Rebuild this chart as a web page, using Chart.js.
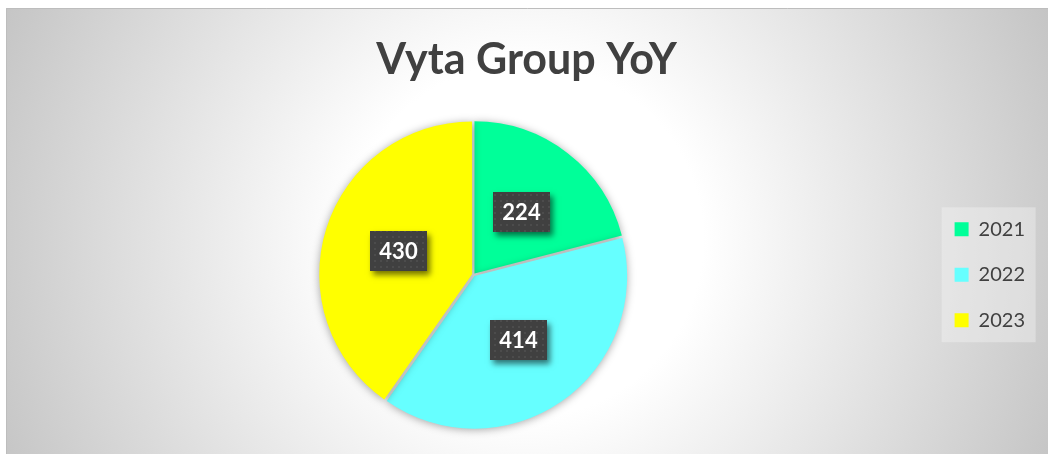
<!DOCTYPE html>
<html>
<head>
<meta charset="utf-8">
<script src="https://cdn.jsdelivr.net/npm/chart.js@4.4.1/dist/chart.umd.min.js"></script>
<style>
html,body{margin:0;padding:0;background:#fff;}
canvas{display:block;}
</style>
</head>
<body>
<canvas id="c" width="1048" height="454"></canvas>
<script>
const categories = ['2021', '2022', '2023'];
const values = [224, 414, 430];
const sliceColors = ['#00FF99', '#66FFFF', '#FFFF00'];
const titleText = 'Vyta Group YoY';

const bgPlugin = {
  id: 'bg',
  beforeDraw(chart) {
    const ctx = chart.ctx;
    ctx.save();
    ctx.fillStyle = '#ffffff';
    ctx.fillRect(0, 0, chart.width, chart.height);
    const g = ctx.createRadialGradient(526, 240, 0, 526, 240, 590);
    g.addColorStop(0, '#ffffff');
    g.addColorStop(0.3, '#ffffff');
    g.addColorStop(1, '#c2c2c2');
    ctx.fillStyle = g;
    ctx.fillRect(6, 8, chart.width - 6, chart.height - 8);
    ctx.strokeStyle = '#bdbdbd';
    ctx.lineWidth = 1;
    ctx.beginPath();
    ctx.moveTo(6.5, chart.height);
    ctx.lineTo(6.5, 8.5);
    ctx.lineTo(chart.width, 8.5);
    ctx.stroke();
    // legend background panel
    const lg = chart.legend;
    if (lg && lg.legendHitBoxes && lg.legendHitBoxes.length) {
      const hb = lg.legendHitBoxes;
      const first = hb[0], last = hb[hb.length - 1];
      const left = first.left - 13;
      const top = first.top + first.height / 2 - 22;
      const bottom = last.top + last.height / 2 + 22;
      ctx.fillStyle = 'rgba(245,245,245,0.4)';
      ctx.fillRect(left, top, 94, bottom - top);
    }
    ctx.restore();
  },
  beforeDatasetsDraw(chart) {
    const ctx = chart.ctx;
    ctx.save();
    ctx.shadowColor = 'rgba(0,0,0,0.35)';
    ctx.shadowBlur = 9;
    ctx.shadowOffsetX = 0;
    ctx.shadowOffsetY = 1;
  },
  afterDatasetsDraw(chart) {
    chart.ctx.restore();
  }
};

let dotPattern = null;
function getPattern(ctx) {
  if (dotPattern) return dotPattern;
  const pc = document.createElement('canvas');
  pc.width = 6; pc.height = 6;
  const p = pc.getContext('2d');
  p.fillStyle = '#404040';
  p.fillRect(0, 0, 6, 6);
  p.fillStyle = '#4c4c4c';
  p.fillRect(2, 2, 2, 2);
  dotPattern = ctx.createPattern(pc, 'repeat');
  return dotPattern;
}

const labelPlugin = {
  id: 'sliceLabels',
  afterDatasetsDraw(chart) {
    const ctx = chart.ctx;
    const meta = chart.getDatasetMeta(0);
    const ds = chart.data.datasets[0];
    ctx.save();
    ctx.font = 'bold 22px Lato';
    ctx.textAlign = 'center';
    ctx.textBaseline = 'middle';
    meta.data.forEach((arc, i) => {
      const pos = arc.tooltipPosition();
      const txt = String(ds.data[i]);
      const tw = ctx.measureText(txt).width;
      const w = Math.round(tw + 19), h = 40;
      const x = Math.round(pos.x - w / 2), y = Math.round(pos.y - h / 2);
      ctx.save();
      ctx.shadowColor = 'rgba(0,0,0,0.55)';
      ctx.shadowBlur = 6;
      ctx.shadowOffsetX = 3;
      ctx.shadowOffsetY = 4;
      ctx.fillStyle = '#404040';
      ctx.fillRect(x, y, w, h);
      ctx.restore();
      ctx.fillStyle = getPattern(ctx);
      ctx.fillRect(x, y, w, h);
      ctx.fillStyle = '#ffffff';
      ctx.fillText(txt, x + w / 2, y + h / 2 + 1);
    });
    ctx.restore();
  }
};

new Chart(document.getElementById('c'), {
  type: 'pie',
  data: {
    labels: categories,
    datasets: [{
      data: values,
      backgroundColor: sliceColors,
      borderColor: sliceColors,
      borderWidth: 0,
      offset: 6,
      hoverOffset: 0
    }]
  },
  options: {
    responsive: false,
    animation: false,
    devicePixelRatio: 1,
    layout: { padding: { left: 18, right: 13, top: 0, bottom: 24 } },
    plugins: {
      tooltip: { enabled: false },
      title: {
        display: true,
        text: titleText,
        color: '#404040',
        font: { family: 'Lato', size: 43, weight: 'bold', lineHeight: 1.2 },
        padding: { top: 34, bottom: 34 }
      },
      legend: {
        display: true,
        position: 'right',
        fullSize: false,
        labels: {
          color: '#404040',
          font: { family: 'Lato', size: 20 },
          boxWidth: 14,
          boxHeight: 14,
          padding: 25.5
        }
      }
    }
  },
  plugins: [bgPlugin, labelPlugin]
});
</script>
</body>
</html>
